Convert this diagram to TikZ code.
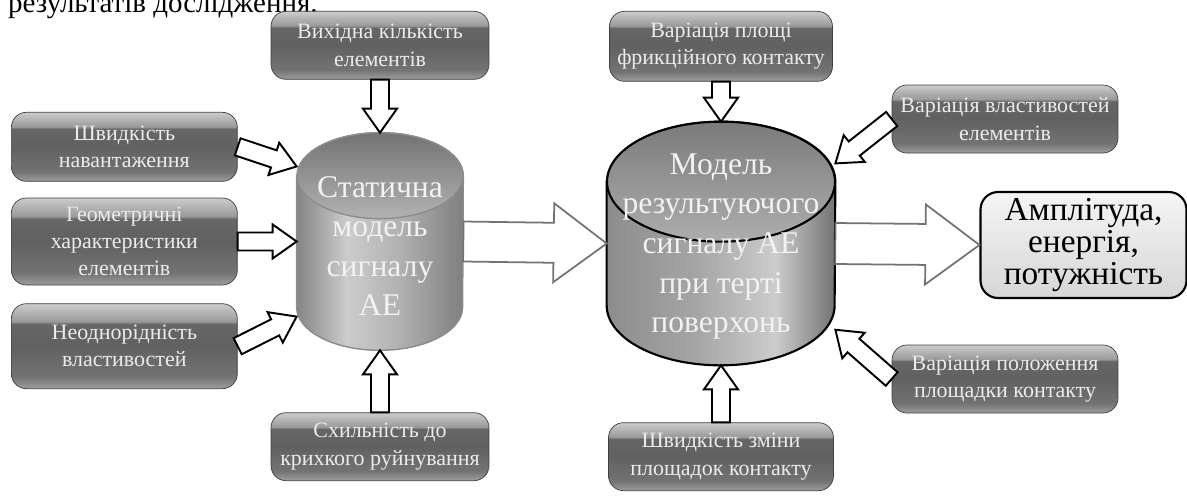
\documentclass[tikz,border=0pt]{standalone}
\usepackage{fontspec}
\setmainfont{Liberation Serif}
\usetikzlibrary{positioning}
\usetikzlibrary{calc}

% glossy fill of the factor boxes (path covers 25bp..75bp)
\pgfdeclareverticalshading{glossy}{100bp}{color(0bp)=(black!38); color(25bp)=(black!38);
  color(32bp)=(black!55); color(50bp)=(black!62); color(63bp)=(black!60);
  color(64.5bp)=(black!40); color(75bp)=(black!20); color(100bp)=(black!20)}
\pgfdeclarehorizontalshading{cylleft}{100bp}{color(0bp)=(black!48); color(25bp)=(black!48);
  color(40bp)=(black!20); color(55bp)=(black!30); color(75bp)=(black!50); color(100bp)=(black!50)}
\pgfdeclarehorizontalshading{cylright}{100bp}{color(0bp)=(black!45); color(25bp)=(black!45);
  color(45bp)=(black!35); color(62bp)=(black!20); color(75bp)=(black!55); color(100bp)=(black!55)}

% block arrow: [style]{from}{to}{shaft half width}{head half width}{head length}
\newcommand{\blockarrow}[6][]{%
  \draw[#1] let \p1=(#2), \p2=(#3), \n1={atan2(\y2-\y1,\x2-\x1)},
    \n2={veclen(\x2-\x1,\y2-\y1)} in [shift={(\p1)}, rotate=\n1]
    (0pt,-#4) -- ({\n2-#6},-#4) -- ({\n2-#6},-#5) -- ({\n2+0pt},0pt)
    -- ({\n2-#6},#5) -- ({\n2-#6},#4) -- (0pt,#4) -- cycle;}

% cylinder drawn round a node: {node}{x radius}{y radius}{body style}{cap style}
\newcommand{\drawcyl}[5]{%
  \path[#4] ([yshift=-#3]#1.north west) -- ([yshift=#3]#1.south west)
    arc[start angle=180,end angle=360,x radius=#2,y radius=#3]
    -- ([yshift=-#3]#1.north east)
    arc[start angle=0,end angle=180,x radius=#2,y radius=#3] -- cycle;
  \path[#5] ([yshift=-#3]#1.north) ellipse [x radius=#2,y radius=#3];}

\begin{document}
\begin{tikzpicture}[x=0.02cm,y=-0.02cm,
  factor/.style={rectangle,rounded corners=0.3cm,draw=black!75,shade,shading=glossy,
    text=white!92!black,font=\fontsize{12.5}{15.5}\selectfont,align=center,
    minimum width=4.52cm,minimum height=1.38cm,inner sep=1pt},
  modelbox/.style={rectangle,inner sep=0pt},
  modeltext/.style={text=white!95!black,font=\fontsize{18}{22.5}\selectfont,align=center},
  result/.style={rectangle,rounded corners=0.35cm,draw,line width=1.2pt,
    top color=black!4,bottom color=black!16,font=\fontsize{19}{18}\selectfont,
    align=center,minimum width=4.12cm,minimum height=2.12cm},
  inarrow/.style={draw=black,line width=1.1pt,fill=white,line join=miter},
  flowarrow/.style={draw=black!55,line width=1pt,fill=white,line join=miter}]

  \useasboundingbox (0,0) rectangle (1187,495);

  \node[anchor=base west,font=\fontsize{16.5}{18}\selectfont] (caption) at (2,12) {результатів дослідження.};

  % the two models
  \node[modelbox,minimum width=3.32cm,minimum height=4.34cm] (lc) at (380,241.5) {};
  \drawcyl{lc}{1.66cm}{0.86cm}{shade,shading=cylleft,draw=black!45,line width=0.8pt}
    {top color=black!55,bottom color=black!30,draw=black!45,line width=0.8pt}
  \node[modeltext] (lct) at ([yshift=-0.09cm]lc.center) {Статична\\модель\\сигналу\\АЕ};

  \node[modelbox,minimum width=4.56cm,minimum height=4.86cm] (rc) at (721,243.5) {};
  \drawcyl{rc}{2.28cm}{1.2cm}{shade,shading=cylright,draw=black,line width=1.2pt}
    {top color=black!52,bottom color=black!32,draw=black,line width=1.2pt}
  \node[modeltext] (rct) at ([yshift=-0.06cm]rc.center) {Модель\\результуючого\\сигналу АЕ\\при терті\\поверхонь};

  % factors of the static model
  \node[factor,minimum height=1.74cm] (b2) [left=1.18cm of lc] {Геометричні\\характеристики\\елементів};
  \node[factor] (b1) [above=0.32cm of b2] {Швидкість\\навантаження};
  \node[factor,minimum height=1.7cm] (b3) [below=0.36cm of b2] {Неоднорідність\\властивостей};
  \node[factor,minimum width=4.36cm,minimum height=1.36cm] (b0) [above=1.06cm of lc] {Вихідна кількість\\елементів};
  \node[factor,minimum width=4.36cm,minimum height=1.36cm] (b4) [below=1.24cm of lc] {Схильність до\\крихкого руйнування};

  % factors of the friction model
  \node[factor,minimum width=4.46cm,minimum height=1.4cm] (r0) [above=0.8cm of rc] {Варіація площі\\фрикційного контакту};
  \node[factor,minimum width=4.5cm,minimum height=1.36cm] (r4) [below=1.14cm of rc] {Швидкість зміни\\площадок контакту};
  \node[factor,minimum height=1.36cm] (r1) at (1005,119) {Варіація властивостей\\елементів};
  \node[factor,minimum height=1.36cm] (r3) at (1005,379) {Варіація положення\\площадки контакту};

  \node[result] (out) at (1083.5,245) {Амплітуда,\\енергія,\\потужність};

  % arrows
  \blockarrow[inarrow]{b1.east}{lc.138}{0.18cm}{0.34cm}{0.48cm}
  \blockarrow[inarrow]{b2.east}{lc.west}{0.18cm}{0.34cm}{0.48cm}
  \blockarrow[inarrow]{b3.east}{lc.222}{0.18cm}{0.34cm}{0.48cm}
  \blockarrow[inarrow]{b0.south}{lc.north}{0.18cm}{0.34cm}{0.48cm}
  \blockarrow[inarrow]{b4.north}{lc.south}{0.18cm}{0.34cm}{0.48cm}
  \blockarrow[inarrow]{r0.south}{rc.north}{0.18cm}{0.34cm}{0.48cm}
  \blockarrow[inarrow]{r4.north}{rc.south}{0.18cm}{0.34cm}{0.48cm}
  \blockarrow[inarrow]{r1.west}{rc.35}{0.18cm}{0.34cm}{0.48cm}
  \blockarrow[inarrow]{r3.west}{rc.-37}{0.18cm}{0.34cm}{0.48cm}
  \blockarrow[flowarrow]{lc.east}{rc.west}{0.4cm}{0.79cm}{1.06cm}
  \blockarrow[flowarrow]{rc.east}{out.west}{0.41cm}{0.8cm}{1.08cm}
\end{tikzpicture}
\end{document}
